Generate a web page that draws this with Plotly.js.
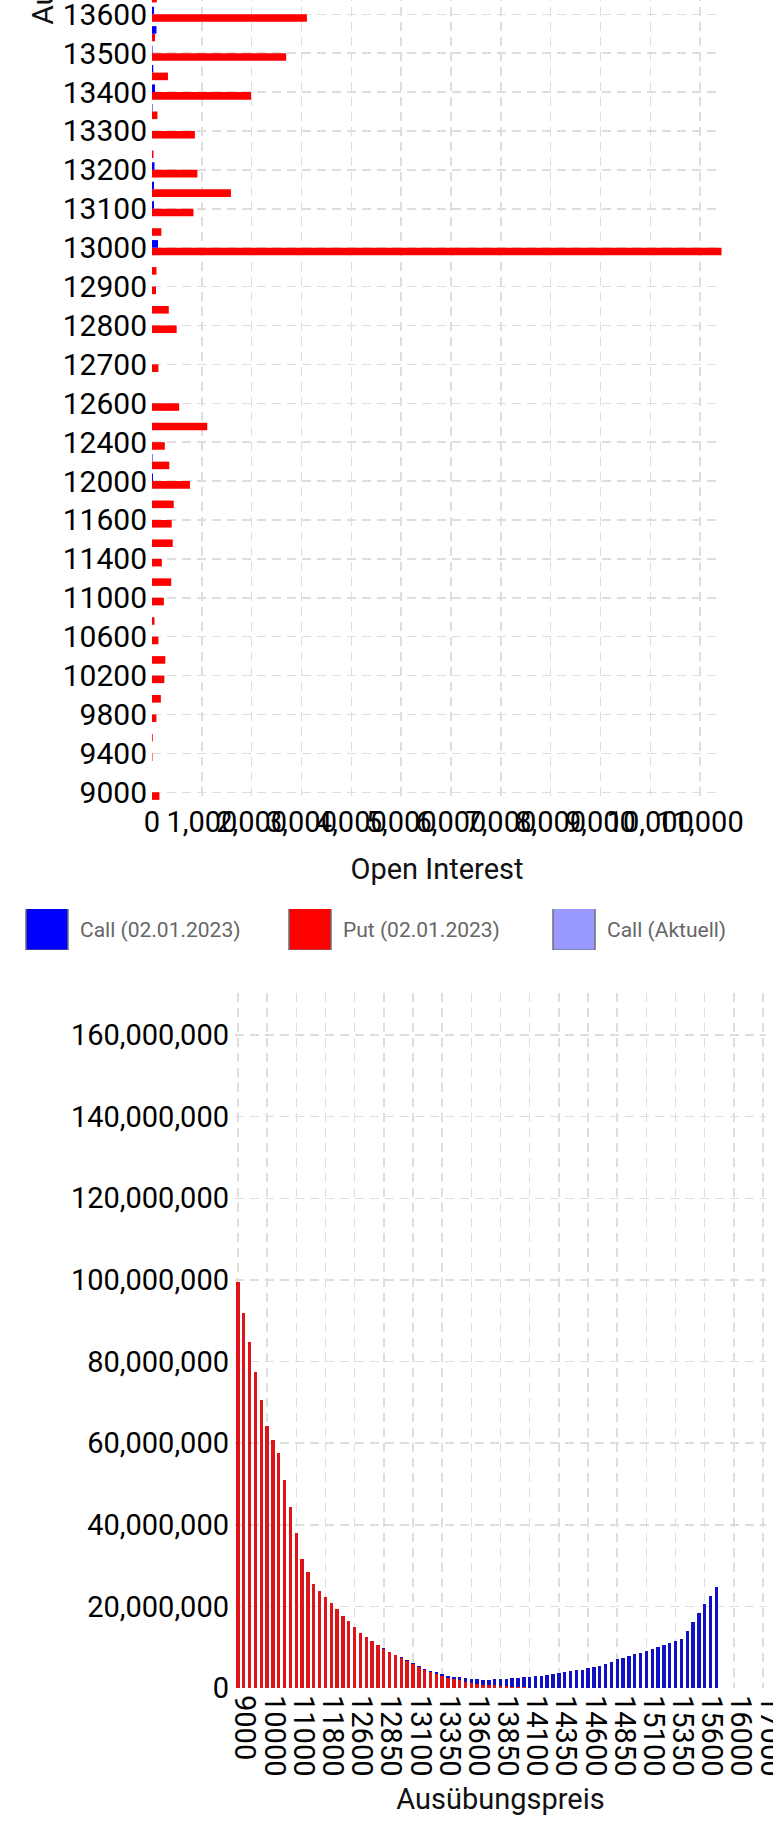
<!DOCTYPE html>
<html>
<head>
<meta charset="utf-8">
<script src="https://cdn.plot.ly/plotly-3.0.1.min.js"></script>
<style>
  html, body { margin: 0; padding: 0; background: #fff; }
  body { width: 773px; height: 1830px; position: relative; overflow: hidden; }
  #oi_chart { position: absolute; left: 0; top: -988px; width: 773px; height: 1890px; }
  #pain_chart { position: absolute; left: 0; top: 902px; width: 773px; height: 928px; }
</style>
</head>
<body>
<div id="oi_chart"></div>
<div id="pain_chart"></div>
<script>
// strikes (Ausübungspreis), shared by both charts
const strikes = [
  9000, 9200, 9400, 9600, 9800, 10000, 10200, 10400, 10600, 10800,
  11000, 11200, 11400, 11500, 11600, 11800, 12000, 12200, 12400, 12500,
  12600, 12650, 12700, 12750, 12800, 12850, 12900, 12950, 13000, 13050,
  13100, 13150, 13200, 13250, 13300, 13350, 13400, 13450, 13500, 13550,
  13600, 13650, 13700, 13750, 13800, 13850, 13900, 13950, 14000, 14050,
  14100, 14150, 14200, 14250, 14300, 14350, 14400, 14450, 14500, 14550,
  14600, 14650, 14700, 14750, 14800, 14850, 14900, 14950, 15000, 15050,
  15100, 15150, 15200, 15250, 15300, 15350, 15400, 15450, 15500, 15550,
  15600, 15650, 15700, 15800, 15900, 16000, 16200, 16400, 16600, 16800,
  17000
];

// open interest 02.01.2023
const call_oi = [
  0, 0, 0, 0, 0, 0, 0, 0, 0, 0,
  0, 0, 0, 0, 0, 0, 20, 10, 0, 0,
  0, 0, 0, 0, 0, 0, 0, 0, 120, 0,
  40, 40, 50, 0, 0, 10, 60, 25, 10, 90,
  40, 30, 300, 150, 800, 200, 900, 300, 2500, 400,
  1500, 350, 1800, 300, 1200, 900, 2000, 400, 2600, 500,
  1900, 300, 1100, 250, 900, 700, 1300, 200, 2200, 300,
  1000, 200, 700, 150, 500, 600, 900, 100, 800, 150,
  1400, 300, 900, 0, 0, 0, 0, 0, 0, 0,
  0
];
const put_oi = [
  149, 0, 10, 15, 89, 178, 248, 267, 129, 50,
  238, 386, 198, 416, 396, 436, 762, 347, 257, 1109,
  545, 0, 129, 0, 495, 337, 80, 90, 11430, 188,
  832, 1584, 911, 30, 861, 109, 1990, 320, 2693, 60,
  3109, 95, 600, 150, 900, 80, 300, 40, 1200, 60,
  400, 30, 250, 20, 150, 60, 200, 10, 120, 10,
  80, 0, 40, 0, 30, 10, 20, 0, 50, 0,
  10, 0, 0, 0, 0, 0, 10, 0, 0, 0,
  0, 0, 0, 0, 0, 0, 0, 0, 0, 0,
  0
];

// pain per strike, in millions
const put_pain_m = [
  99.5, 91.8, 84.9, 77.5, 70.6, 64.2, 60.8, 57.5, 51.0, 44.3,
  37.9, 31.5, 28.4, 25.4, 23.8, 22.2, 20.8, 19.3, 17.7, 16.3,
  14.9, 13.4, 12.5, 11.6, 10.5, 9.67, 8.85, 8.13, 7.4, 6.65,
  5.9, 5.15, 4.4, 3.85, 3.4, 2.95, 2.5, 2.2, 1.85, 1.5,
  1.2, 1.0, 0.85, 0.75, 0.65, 0.55, 0.45, 0.35, 0.25, 0.18,
  0.12, 0.08, 0.05, 0.03, 0.01, 0, 0, 0, 0, 0,
  0, 0, 0, 0, 0, 0, 0, 0, 0, 0,
  0, 0, 0, 0, 0, 0, 0, 0, 0, 0,
  0, 0, 0, 0, 0, 0, 0, 0, 0, 0,
  0
];
const call_pain_m = [
  0, 0, 0, 0, 0, 0, 0, 0, 0, 0,
  0, 0, 0, 0, 0, 0, 0, 0, 0, 0,
  0, 0, 0, 0, 0, 0.03, 0.05, 0.07, 0.1, 0.15,
  0.2, 0.25, 0.3, 0.35, 0.4, 0.45, 0.5, 0.6, 0.75, 0.9,
  1.0, 1.1, 1.2, 1.3, 1.45, 1.65, 1.85, 2.05, 2.25, 2.45,
  2.6, 2.8, 2.95, 3.15, 3.4, 3.6, 3.8, 4.1, 4.3, 4.5,
  4.8, 5.1, 5.4, 5.8, 6.3, 7.0, 7.4, 7.8, 8.3, 8.7,
  9.1, 9.6, 10.1, 10.5, 11.1, 11.5, 12.0, 14.0, 16.1, 18.3,
  20.5, 22.6, 24.8, 0, 0, 0, 0, 0, 0, 0,
  0
];
const call_now_m = strikes.map(() => 0);

const series_names = ["Call (02.01.2023)", "Put (02.01.2023)", "Call (Aktuell)"];
const legend_colors = ["#0000ff", "#ff0000", "#9999ff"];

const grid_style = { showgrid: true, gridcolor: "#dedede", gridwidth: 1.5, griddash: "9px,6px", zeroline: false, showline: false, ticks: "" };
const font_family = "Roboto, sans-serif";
const title_font = { size: 29, color: "#111" };

class oi_chart {
    constructor(view) { this.view = view; }

    draw() {
        const labels = strikes.map(String);
        // put first so it sits below the call bar inside each group
        const traces = [
            { type: "bar", orientation: "h", y: labels, x: put_oi, name: series_names[1],
              marker: { color: "#ff0000", line: { width: 0 } } },
            { type: "bar", orientation: "h", y: labels, x: call_oi, name: series_names[0],
              marker: { color: "#0000ff", line: { width: 0 } } }
        ];
        const layout = {
            width: 773, height: 1890,
            margin: { l: 152, r: 51, t: 20, b: 100, pad: 0 },
            font: { family: font_family, size: 29, color: "#000" },
            paper_bgcolor: "#fff", plot_bgcolor: "#fff",
            barmode: "group", bargap: 0.22, bargroupgap: 0,
            showlegend: false,
            xaxis: Object.assign({}, grid_style, {
                range: [0, 11440], tick0: 0, dtick: 1000, tickformat: ",", tickangle: 0,
                automargin: false,
                title: { text: "Open Interest", font: title_font, standoff: 20 }
            }),
            yaxis: Object.assign({}, grid_style, {
                type: "category", categoryorder: "array", categoryarray: labels,
                range: [-0.5, strikes.length - 0.5], tick0: 0, dtick: 2,
                tickfont: { size: 30 }, ticklabelstandoff: 4, automargin: false,
                title: { text: "Ausübungspreis", font: { size: 30, color: "#111" }, standoff: 0 }
            })
        };
        return Plotly.newPlot(this.view, traces, layout, { staticPlot: true });
    }
}

class pain_chart {
    constructor(view) { this.view = view; }

    legend_at(left) {
        return {
            orientation: "h", xref: "container", yref: "container",
            x: left / 773, xanchor: "left", y: 1 - 27.5 / 928, yanchor: "middle",
            itemwidth: 56, font: { size: 21, color: "#666" }, bgcolor: "rgba(0,0,0,0)"
        };
    }

    draw() {
        const labels = strikes.map(String);
        const to_abs = (arr) => arr.map(v => v * 1e6);
        const traces = [
            { type: "bar", x: labels, y: to_abs(put_pain_m), name: series_names[1], legend: "legend2",
              marker: { color: "rgb(222,20,24)", line: { width: 0 } } },
            { type: "bar", x: labels, y: to_abs(call_pain_m), name: series_names[0], legend: "legend",
              marker: { color: "rgb(16,16,196)", line: { width: 0 } } },
            { type: "bar", x: labels, y: to_abs(call_now_m), name: series_names[2], legend: "legend3",
              marker: { color: "#9999ff", line: { width: 0 } } }
        ];
        const layout = {
            width: 773, height: 928,
            margin: { l: 235, r: 6.5, t: 91, b: 142, pad: 0 },
            font: { family: font_family, size: 29, color: "#000" },
            paper_bgcolor: "#fff", plot_bgcolor: "#fff",
            barmode: "stack", bargap: 0.42,
            showlegend: true,
            legend: this.legend_at(14),
            legend2: this.legend_at(277),
            legend3: this.legend_at(541),
            xaxis: Object.assign({}, grid_style, {
                type: "category", categoryorder: "array", categoryarray: labels,
                range: [-0.5, strikes.length - 0.5], tick0: 0, dtick: 5, tickangle: 90,
                ticklabelshift: 7, ticklabelstandoff: 6, automargin: false,
                title: { text: "Ausübungspreis", font: title_font, standoff: 13 }
            }),
            yaxis: Object.assign({}, grid_style, {
                range: [0, 170.3e6], tick0: 0, dtick: 20e6, tickformat: ",",
                ticklabelstandoff: 5, automargin: false
            })
        };
        return Plotly.newPlot(this.view, traces, layout, { staticPlot: true })
            .then(() => this.style_legend());
    }

    // chart-style legend boxes: big squares with a grey border
    style_legend() {
        this.view.querySelectorAll(".infolayer .traces").forEach(item => {
            const text = item.querySelector("text").textContent;
            const idx = series_names.indexOf(text);
            item.querySelectorAll(".legendpoints path").forEach(p => {
                p.setAttribute("d", "M21,21H-21V-21H21Z");
                if (idx >= 0) p.style.fill = legend_colors[idx];
                p.style.stroke = "#6e6e7a";
                p.style.strokeWidth = "1.5px";
                p.style.strokeOpacity = 1;
                p.style.fillOpacity = 1;
            });
        });
    }
}

new oi_chart(document.getElementById("oi_chart")).draw();
new pain_chart(document.getElementById("pain_chart")).draw();
</script>
</body>
</html>
